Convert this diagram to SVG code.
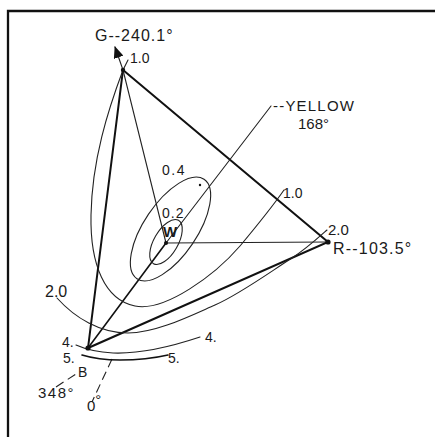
<svg xmlns="http://www.w3.org/2000/svg" width="438" height="437" viewBox="0 0 438 437">
<style>
.t{font-family:"Liberation Sans",Arial,sans-serif;fill:#1a1a1a;}
.thick{stroke:#111;stroke-width:2;fill:none;stroke-linecap:round;}
.med{stroke:#111;stroke-width:1.6;fill:none;stroke-linecap:round;}
.thin{stroke:#222;stroke-width:1.1;fill:none;stroke-linecap:round;}
.dash{stroke:#222;stroke-width:1.1;fill:none;stroke-dasharray:9 5;}
</style>
<defs>
<marker id="arr" viewBox="0 0 12 10" refX="11" refY="5" markerWidth="12" markerHeight="10" markerUnits="userSpaceOnUse" orient="auto">
<path d="M0,0 L12,5 L0,10 Z" fill="#111"/>
</marker>
</defs>
<rect width="438" height="437" fill="#fff"/>
<g id="frame">
<path d="M8,437 L8,11 L435,11" stroke="#111" stroke-width="2.3" fill="none"/>
</g>
<g id="connectors">
<path class="thick" d="M123,70 L328,242 L88,348 Z"/>
<line class="thin" x1="123" y1="70" x2="166" y2="243"/>
<line class="thin" x1="166" y1="243" x2="328" y2="242"/>
<line class="med" x1="88" y1="348" x2="166" y2="243"/>
<line class="thin" x1="166" y1="243" x2="271" y2="106"/>
<line class="thin" x1="123" y1="70" x2="115" y2="47" marker-end="url(#arr)"/>
<line class="dash" x1="56" y1="387" x2="79" y2="372"/>
<line class="dash" x1="112" y1="359" x2="92" y2="402"/>
</g>
<g id="contours">
<ellipse class="thin" cx="166" cy="242" rx="25" ry="12" transform="rotate(-60 166 242)"/>
<ellipse class="thin" cx="170.5" cy="229" rx="60" ry="26.5" transform="rotate(-56 170.5 229)"/>
<circle cx="200" cy="185" r="1.2" fill="#111"/>
<path class="thin" d="M128,60 L123,70 C108,110 92,160 91,215 C90,265 105,300 135,306 C165,312 215,275 240,246 C255,228 270,210 284,190"/>
<path class="thin" d="M57,298 C75,318 100,333 128,333 C156,333 190,316 215,305 C240,294 270,272 292,258 C306,249 318,238 327,230"/>
<path class="thin" d="M76,345 C85,349 95,352 113,353 C140,354 170,347 200,337"/>
<path class="med" d="M82,355 C95,359 105,360 120,360 C140,360 155,358 168,355"/>
</g>
<g id="G">
<circle cx="123" cy="70" r="2.2" fill="#111"/>
<text class="t" x="95" y="41" font-size="16" letter-spacing="1">G--240.1°</text>
<text class="t" x="130" y="63" font-size="14">1.0</text>
</g>
<g id="R">
<circle cx="328" cy="242" r="2.6" fill="#111"/>
<text class="t" x="333" y="254" font-size="16" letter-spacing="1.2">R--103.5°</text>
<text class="t" x="328" y="235" font-size="15">2.0</text>
<text class="t" x="283" y="198" font-size="14">1.0</text>
</g>
<g id="W">
<circle cx="166" cy="243" r="2" fill="#111"/>
<text class="t" x="163" y="237" font-size="15" font-weight="bold">W</text>
<text class="t" x="162" y="218" font-size="14" letter-spacing="1">0.2</text>
<text class="t" x="162" y="175" font-size="14" letter-spacing="1.5">0.4</text>
</g>
<g id="Yellow">
<text class="t" x="273" y="111" font-size="15" letter-spacing="1.2">--YELLOW</text>
<text class="t" x="298" y="129" font-size="15">168°</text>
</g>
<g id="B">
<circle cx="88" cy="348" r="2.6" fill="#111"/>
<text class="t" x="45" y="297" font-size="16">2.0</text>
<text class="t" x="62" y="347" font-size="14">4.</text>
<text class="t" x="63" y="363" font-size="14">5.</text>
<text class="t" x="168" y="363" font-size="14">5.</text>
<text class="t" x="205" y="342" font-size="14">4.</text>
<text class="t" x="78" y="377" font-size="14">B</text>
<text class="t" x="38" y="398" font-size="15" letter-spacing="1.5">348°</text>
<text class="t" x="87" y="411" font-size="15">0<tspan dy="-6">°</tspan></text>
</g>
</svg>
